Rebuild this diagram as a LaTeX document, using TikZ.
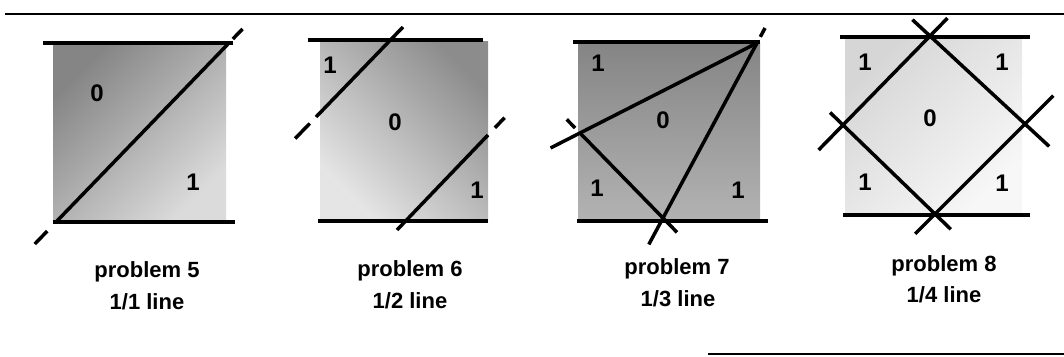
\documentclass[tikz,border=0pt]{standalone}
\usepackage{fontspec}
\setmainfont{Liberation Sans}
\usetikzlibrary{calc}
\begin{document}
\begin{tikzpicture}[x=1pt,y=-1pt,
  bar/.style={line width=4pt},
  cut/.style={line width=3.5pt},
  frame/.style={line width=2pt},
  lbl/.style={font=\fontsize{24}{24}\selectfont\bfseries, inner sep=0pt},
  captxt/.style={font=\fontsize{22}{22}\selectfont\bfseries, inner sep=0pt},
  zone/.style={draw=none}]
\useasboundingbox (0,0) rectangle (1064,356);
% frame
\coordinate (f1) at (5,14); \coordinate (f2) at (1064,14);
\coordinate (f3) at (708,354); \coordinate (f4) at (1064,354);
\draw[frame] (f1) -- (f2);
\draw[frame] (f3) -- (f4);
% ---------- panel 5
\shade[zone, top color=black!48, bottom color=black!14, shading angle=45] (53,44) rectangle (226,221);
\draw[bar] (43,43) -- (233,43);
\draw[bar] (53,222) -- (235,222);
\coordinate (p1a) at (57,221); \coordinate (p1b) at (228,44);
\draw[cut] (p1a) -- (p1b);
\draw[cut] ($(p1b)!-7pt!(p1a)$) -- ($(p1b)!-21pt!(p1a)$);
\draw[cut] ($(p1a)!-14pt!(p1b)$) -- ($(p1a)!-32pt!(p1b)$);
\node[lbl] (l1a) at (97,93) {0};
\node[lbl] (l1b) at (193,182) {1};
% ---------- panel 6
\shade[zone, top color=black!45, bottom color=black!10, shading angle=-45] (320,41) rectangle (488,219);
\draw[bar] (308,40) -- (483,40);
\draw[bar] (318,221) -- (488,221);
\coordinate (p2a) at (316,117); \coordinate (p2b) at (403,27);
\coordinate (p2c) at (397,230); \coordinate (p2d) at (488,135);
\draw[cut] (p2a) -- (p2b);
\draw[cut] ($(p2a)!-9pt!(p2b)$) -- ($(p2a)!-30pt!(p2b)$);
\draw[cut] (p2c) -- (p2d);
\draw[cut] ($(p2d)!-10pt!(p2c)$) -- ($(p2d)!-24pt!(p2c)$);
\node[lbl] (l2a) at (330,65) {1};
\node[lbl] (l2b) at (395,122) {0};
\node[lbl] (l2c) at (477,190) {1};
% ---------- panel 7
\shade[zone, top color=black!48, bottom color=black!30] (578,42) rectangle (760,220);
\draw[bar] (573,42) -- (760,42);
\draw[bar] (577,221) -- (768,221);
\coordinate (A) at (757,43); \coordinate (B) at (580,133); \coordinate (C) at (663,218);
\draw[cut] (A) -- ($(C)!-30pt!(A)$);
\draw[cut] ($(A)!-7pt!(C)$) -- ($(A)!-17pt!(C)$);
\draw[cut] (B) -- ($(C)!-20pt!(B)$);
\draw[cut] ($(B)!-7pt!(C)$) -- ($(B)!-19pt!(C)$);
\draw[cut] (A) -- ($(B)!-33pt!(A)$);
\node[lbl] (l3a) at (598,63) {1};
\node[lbl] (l3b) at (663,120) {0};
\node[lbl] (l3c) at (597,188) {1};
\node[lbl] (l3d) at (738,190) {1};
% ---------- panel 8
\shade[zone, top color=black!16, bottom color=black!3, shading angle=45] (845,38) rectangle (1022,214);
\draw[bar] (840,37) -- (1030,37);
\draw[bar] (843,215) -- (1030,215);
\coordinate (T) at (930,36); \coordinate (R) at (1025,124);
\coordinate (Bt) at (935,214); \coordinate (L) at (843,125);
\draw[cut] ($(L)!-35pt!(T)$) -- ($(T)!-25pt!(L)$);
\draw[cut] ($(T)!-24pt!(R)$) -- ($(R)!-33pt!(T)$);
\draw[cut] ($(Bt)!-28pt!(R)$) -- ($(R)!-40pt!(Bt)$);
\draw[cut] ($(L)!-18pt!(Bt)$) -- ($(Bt)!-22pt!(L)$);
\node[lbl] (l4a) at (865,62) {1};
\node[lbl] (l4b) at (1002,62) {1};
\node[lbl] (l4c) at (930,118) {0};
\node[lbl] (l4d) at (865,182) {1};
\node[lbl] (l4e) at (1002,183) {1};
% ---------- captions
\node[captxt] (c5a) at (147,272) {problem 5};
\node[captxt] (c5b) at (147,302) {1/1 line};
\node[captxt] (c6a) at (410,271) {problem 6};
\node[captxt] (c6b) at (410,301) {1/2 line};
\node[captxt] (c7a) at (677,269) {problem 7};
\node[captxt] (c7b) at (678,299) {1/3 line};
\node[captxt] (c8a) at (944,266) {problem 8};
\node[captxt] (c8b) at (944,295) {1/4 line};
\end{tikzpicture}
\end{document}
